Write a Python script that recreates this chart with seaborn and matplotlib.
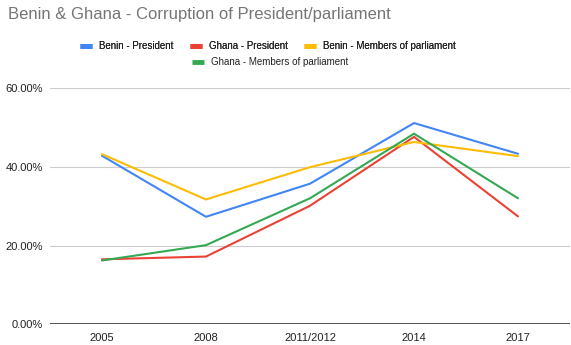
import matplotlib
matplotlib.use("Agg")
import matplotlib.pyplot as plt
import seaborn as sns
import pandas as pd
from matplotlib.lines import Line2D
from matplotlib.ticker import FuncFormatter

years = ["2005", "2008", "2011/2012", "2014", "2017"]
benin_president = [42.8, 27.3, 35.7, 51.1, 43.3]
ghana_president = [16.5, 17.2, 30.1, 47.6, 27.4]
benin_parliament = [43.2, 31.7, 39.9, 46.3, 42.7]
ghana_parliament = [16.2, 20.1, 32.0, 48.4, 32.0]

series = {
    "Benin - President": benin_president,
    "Ghana - President": ghana_president,
    "Benin - Members of parliament": benin_parliament,
    "Ghana - Members of parliament": ghana_parliament,
}
colors = {
    "Benin - President": "#4285F4",
    "Ghana - President": "#EA4335",
    "Benin - Members of parliament": "#FBBC04",
    "Ghana - Members of parliament": "#34A853",
}

rows = []
for name, vals in series.items():
    for yr, v in zip(years, vals):
        rows.append({"year": yr, "value": v, "series": name})
df = pd.DataFrame(rows)

sns.set_theme(style="white")
plt.rcParams["font.family"] = ["Liberation Sans", "DejaVu Sans"]

fig = plt.figure(figsize=(5.71, 3.45), dpi=100)
ax = fig.add_axes([50 / 571, 1 - 324.3 / 345, 520 / 571, (324.3 - 88) / 345])

sns.lineplot(data=df, x="year", y="value", hue="series", palette=colors,
             linewidth=1.5, sort=False, legend=False, ax=ax)

ax.set_xlim(-0.5, len(years) - 0.5)
ax.set_ylim(0, 60)
ax.set_yticks([0, 20, 40, 60])
ax.yaxis.set_major_formatter(FuncFormatter(lambda v, _: f"{v:.2f}%"))
ax.grid(axis="y", color="#cccccc", linewidth=0.8)
ax.grid(axis="x", visible=False)
ax.set_axisbelow(True)
ax.axhline(0, color="#333333", linewidth=1.2, zorder=1)
for s in ax.spines.values():
    s.set_visible(False)
ax.set_xlabel("")
ax.set_ylabel("")
ax.tick_params(axis="both", length=0, labelsize=8, colors="#222222")
ax.tick_params(axis="y", pad=5)
ax.tick_params(axis="x", pad=6)

fig.text(8 / 571, 1 - 15 / 345, "Benin & Ghana - Corruption of President/parliament",
         fontsize=12, color="#757575", ha="left", va="center")

names = list(series.keys())
handles = [Line2D([0], [0], color=colors[n], linewidth=3.5, solid_capstyle="butt")
           for n in names]
leg_kw = dict(loc="center", frameon=False, fontsize=7, handlelength=1.25,
              handletextpad=0.7, columnspacing=1.7, labelcolor="#222222")
leg1 = fig.legend(handles[:3], names[:3], ncol=3,
                  bbox_to_anchor=(268 / 571, 1 - 46 / 345), **leg_kw)
fig.add_artist(leg1)
fig.legend(handles[3:], names[3:], ncol=1,
           bbox_to_anchor=(270 / 571, 1 - 62 / 345), **leg_kw)

fig.savefig("out.png", dpi=100, facecolor="white")
